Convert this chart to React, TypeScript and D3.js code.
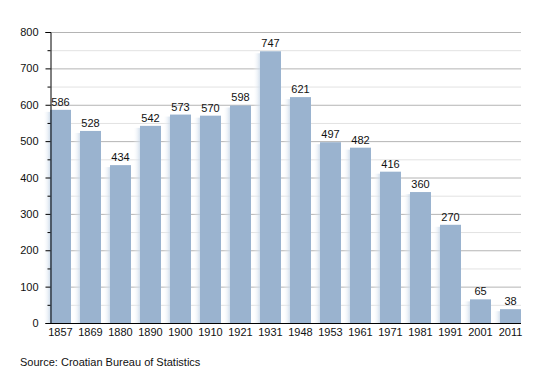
import * as d3 from "d3";
import React, { useRef, useEffect } from "react";

const years = ["1857", "1869", "1880", "1890", "1900", "1910", "1921", "1931", "1948", "1953", "1961", "1971", "1981", "1991", "2001", "2011"];
const population = [586, 528, 434, 542, 573, 570, 598, 747, 621, 497, 482, 416, 360, 270, 65, 38];
const yTicks = [0, 100, 200, 300, 400, 500, 600, 700, 800];
const sourceNote = "Source: Croatian Bureau of Statistics";

const W = 550;
const H = 373;

const App = () => {
  const ref = useRef<SVGSVGElement>(null);

  useEffect(() => {
    if (!ref.current) return;
    const svg = d3.select(ref.current);
    svg.selectAll("*").remove();

    const left = 50;
    const right = 521;
    const top = 32;
    const bottom = 323;
    const font = "'Liberation Sans', Arial, sans-serif";

    const x = d3.scaleBand().domain(years).range([left, left + years.length * 30]).padding(0);
    const barW = x.bandwidth() * 0.7;
    const y = d3.scaleLinear().domain([0, 800]).range([bottom, top]);

    const defs = svg.append("defs");
    const shade = defs.append("linearGradient").attr("id", "shade").attr("x1", 0).attr("x2", 1);
    shade.append("stop").attr("offset", "0%").attr("stop-color", "#ffffff").attr("stop-opacity", 0);
    shade.append("stop").attr("offset", "100%").attr("stop-color", "#c9d8e8").attr("stop-opacity", 0.8);

    // grid, minor then major
    const minor = d3.range(50, 800, 100);
    svg
      .append("g")
      .selectAll("line")
      .data(minor)
      .join("line")
      .attr("x1", left)
      .attr("x2", right)
      .attr("y1", (d) => y(d) + 0.5)
      .attr("y2", (d) => y(d) + 0.5)
      .attr("stroke", "#e2e2e2");

    svg
      .append("g")
      .selectAll("line")
      .data(yTicks.slice(1))
      .join("line")
      .attr("x1", left)
      .attr("x2", right)
      .attr("y1", (d) => y(d) + 0.5)
      .attr("y2", (d) => y(d) + 0.5)
      .attr("stroke", "#b4b4b4");

    // soft shadow left of each bar
    svg
      .append("g")
      .selectAll("rect")
      .data(population)
      .join("rect")
      .attr("x", (d, i) => (x(years[i]) ?? 0) - 7)
      .attr("width", 7)
      .attr("y", (d) => y(d) + 2)
      .attr("height", (d) => bottom - y(d) - 2)
      .attr("fill", "url(#shade)");

    // bars
    svg
      .append("g")
      .selectAll("rect")
      .data(population)
      .join("rect")
      .attr("x", (d, i) => x(years[i]) ?? 0)
      .attr("width", barW)
      .attr("y", (d) => y(d))
      .attr("height", (d) => bottom - y(d))
      .attr("fill", "#9ab3cf");

    // value labels
    svg
      .append("g")
      .selectAll("text")
      .data(population)
      .join("text")
      .attr("x", (d, i) => (x(years[i]) ?? 0) + barW / 2)
      .attr("y", (d) => y(d) - 4)
      .attr("text-anchor", "middle")
      .style("font-family", font)
      .style("font-size", "11px")
      .attr("fill", "#111")
      .text((d) => d);

    // y axis
    const yAxis = svg
      .append("g")
      .attr("transform", `translate(${left + 0.5},0)`)
      .call(d3.axisLeft(y).tickValues(yTicks).tickSize(5).tickPadding(7));
    yAxis.select(".domain").attr("stroke", "#000");
    yAxis.selectAll("text").style("font-family", font).style("font-size", "11px").attr("fill", "#111");
    yAxis
      .selectAll(".minor")
      .data(minor)
      .join("line")
      .attr("class", "minor")
      .attr("x1", -3)
      .attr("x2", 0)
      .attr("y1", (d) => y(d) + 0.5)
      .attr("y2", (d) => y(d) + 0.5)
      .attr("stroke", "#000");

    // x axis
    svg
      .append("line")
      .attr("x1", left)
      .attr("x2", right)
      .attr("y1", bottom + 0.5)
      .attr("y2", bottom + 0.5)
      .attr("stroke", "#000");

    svg
      .append("g")
      .selectAll("text")
      .data(years)
      .join("text")
      .attr("x", (d) => (x(d) ?? 0) + barW / 2)
      .attr("y", bottom + 13)
      .attr("text-anchor", "middle")
      .style("font-family", font)
      .style("font-size", "11px")
      .attr("fill", "#111")
      .text((d) => d);

    svg
      .append("text")
      .attr("x", 20)
      .attr("y", 366)
      .style("font-family", font)
      .style("font-size", "11px")
      .attr("fill", "#111")
      .text(sourceNote);
  }, []);

  return (
    <svg
      ref={ref}
      width={W}
      height={H}
      style={{ position: "absolute", left: 0, top: 0, background: "#fff" }}
    />
  );
};

export default App;
